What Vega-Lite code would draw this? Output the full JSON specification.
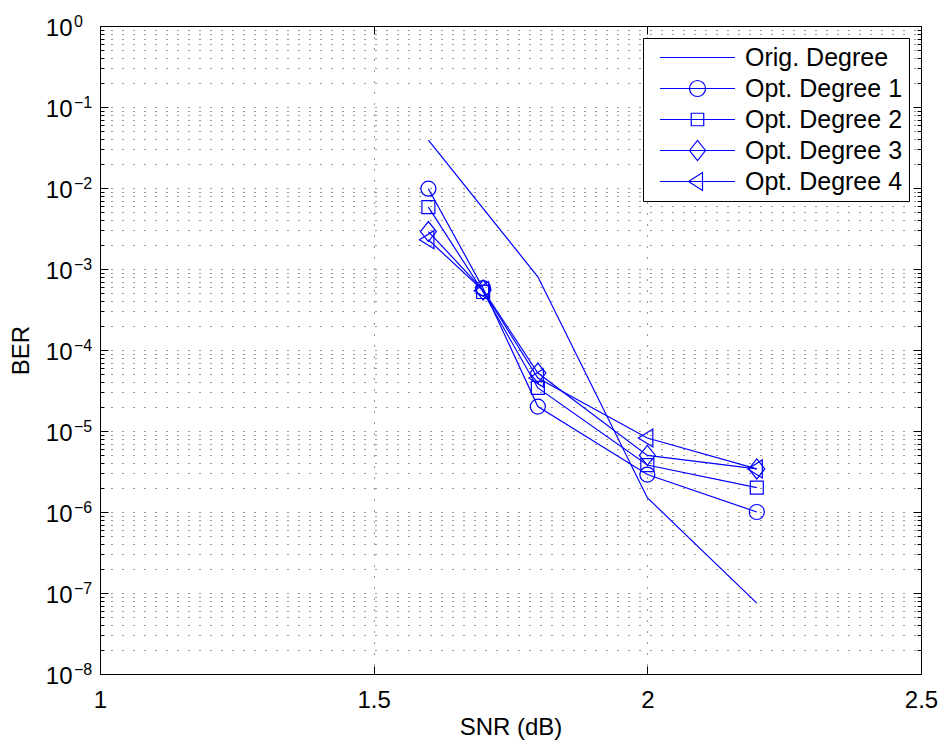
{
  "$schema": "https://vega.github.io/schema/vega-lite/v6.json",
  "width": 821,
  "height": 648,
  "autosize": "none",
  "padding": {"left": 100, "top": 26, "right": 22, "bottom": 71},
  "background": "white",
  "config": {
    "font": "Liberation Sans",
    "view": {"stroke": "black", "strokeWidth": 1},
    "axis": {"domain": false, "labelFont": "Liberation Sans", "titleFont": "Liberation Sans", "labelColor": "black", "titleColor": "black", "tickColor": "black", "labelFontSize": 24, "titleFontSize": 24, "titleFontWeight": "normal", "labelOverlap": false, "labelFlush": false}
  },
  "datasets": {
    "curves": [
      {"series": "Orig. Degree", "snr": 1.6, "ber": 0.039},
      {"series": "Orig. Degree", "snr": 1.8, "ber": 0.0008},
      {"series": "Orig. Degree", "snr": 2.0, "ber": 1.5e-6},
      {"series": "Orig. Degree", "snr": 2.2, "ber": 7.5e-8},
      {"series": "Opt. Degree 1", "snr": 1.6, "ber": 0.0098},
      {"series": "Opt. Degree 1", "snr": 1.7, "ber": 0.00058},
      {"series": "Opt. Degree 1", "snr": 1.8, "ber": 2.0e-5},
      {"series": "Opt. Degree 1", "snr": 2.0, "ber": 2.9e-6},
      {"series": "Opt. Degree 1", "snr": 2.2, "ber": 1.0e-6},
      {"series": "Opt. Degree 2", "snr": 1.6, "ber": 0.0058},
      {"series": "Opt. Degree 2", "snr": 1.7, "ber": 0.00052},
      {"series": "Opt. Degree 2", "snr": 1.8, "ber": 3.4e-5},
      {"series": "Opt. Degree 2", "snr": 2.0, "ber": 3.8e-6},
      {"series": "Opt. Degree 2", "snr": 2.2, "ber": 2.0e-6},
      {"series": "Opt. Degree 3", "snr": 1.6, "ber": 0.0029},
      {"series": "Opt. Degree 3", "snr": 1.7, "ber": 0.00055},
      {"series": "Opt. Degree 3", "snr": 1.8, "ber": 5.2e-5},
      {"series": "Opt. Degree 3", "snr": 2.0, "ber": 5.0e-6},
      {"series": "Opt. Degree 3", "snr": 2.2, "ber": 3.4e-6},
      {"series": "Opt. Degree 4", "snr": 1.6, "ber": 0.0023},
      {"series": "Opt. Degree 4", "snr": 1.7, "ber": 0.00054},
      {"series": "Opt. Degree 4", "snr": 1.8, "ber": 4.5e-5},
      {"series": "Opt. Degree 4", "snr": 2.0, "ber": 8.2e-6},
      {"series": "Opt. Degree 4", "snr": 2.2, "ber": 3.4e-6}
    ],
    "decades": [
      {"tick": 1, "exp": "0"},
      {"tick": 0.1, "exp": "−1"},
      {"tick": 0.01, "exp": "−2"},
      {"tick": 0.001, "exp": "−3"},
      {"tick": 0.0001, "exp": "−4"},
      {"tick": 0.00001, "exp": "−5"},
      {"tick": 0.000001, "exp": "−6"},
      {"tick": 0.0000001, "exp": "−7"},
      {"tick": 0.00000001, "exp": "−8"}
    ]
  },
  "data": {"name": "curves"},
  "resolve": {"axis": {"x": "independent", "y": "independent"}, "scale": {"shape": "independent"}},
  "layer": [
    {
      "mark": {"type": "line", "color": "#0000FF", "strokeWidth": 1.2},
      "encoding": {
        "x": {"field": "snr", "type": "quantitative", "scale": {"domain": [1, 2.5], "nice": false, "zero": false},
          "axis": {"orient": "bottom", "title": "SNR (dB)", "values": [1, 1.5, 2, 2.5], "grid": true, "gridDash": [1, 10], "gridColor": "black", "gridOpacity": 0.8, "tickSize": -8, "labelPadding": 22, "titlePadding": 3, "labelExpr": "format(datum.value, '')"}},
        "y": {"field": "ber", "type": "quantitative", "scale": {"type": "log", "domain": [1e-8, 1], "nice": false},
          "axis": {"orient": "left", "title": "BER", "titlePadding": 12,
            "values": [1e-8,2e-8,3e-8,4e-8,5e-8,6e-8,7e-8,8e-8,9e-8,1e-7,2e-7,3e-7,4e-7,5e-7,6e-7,7e-7,8e-7,9e-7,1e-6,2e-6,3e-6,4e-6,5e-6,6e-6,7e-6,8e-6,9e-6,1e-5,2e-5,3e-5,4e-5,5e-5,6e-5,7e-5,8e-5,9e-5,1e-4,2e-4,3e-4,4e-4,5e-4,6e-4,7e-4,8e-4,9e-4,1e-3,2e-3,3e-3,4e-3,5e-3,6e-3,7e-3,8e-3,9e-3,1e-2,2e-2,3e-2,4e-2,5e-2,6e-2,7e-2,8e-2,9e-2,1e-1,2e-1,3e-1,4e-1,5e-1,6e-1,7e-1,8e-1,9e-1,1],
            "grid": true, "gridDash": [1, 10], "gridColor": "black", "gridOpacity": 0.8,
            "tickSize": {"condition": {"test": "abs(log(datum.value)/LN10 - round(log(datum.value)/LN10)) < 0.001", "value": -8}, "value": -4},
            "labelPadding": 36, "labelBaseline": "middle", "labelOffset": 2,
            "labelExpr": "abs(log(datum.value)/LN10 - round(log(datum.value)/LN10)) < 0.001 ? '10' : ''"}},
        "detail": {"field": "series"}
      }
    },
    {
      "transform": [{"filter": "datum.series != 'Orig. Degree'"}],
      "mark": {"type": "point", "filled": false, "color": "#0000FF", "strokeWidth": 1.2, "size": 100, "opacity": 1},
      "encoding": {
        "x": {"field": "snr", "type": "quantitative",
          "axis": {"orient": "top", "title": null, "labels": false, "values": [1, 1.5, 2, 2.5], "grid": false, "tickSize": -8}},
        "y": {"field": "ber", "type": "quantitative",
          "axis": {"orient": "right", "title": null, "labels": false,
            "values": [1e-8,2e-8,3e-8,4e-8,5e-8,6e-8,7e-8,8e-8,9e-8,1e-7,2e-7,3e-7,4e-7,5e-7,6e-7,7e-7,8e-7,9e-7,1e-6,2e-6,3e-6,4e-6,5e-6,6e-6,7e-6,8e-6,9e-6,1e-5,2e-5,3e-5,4e-5,5e-5,6e-5,7e-5,8e-5,9e-5,1e-4,2e-4,3e-4,4e-4,5e-4,6e-4,7e-4,8e-4,9e-4,1e-3,2e-3,3e-3,4e-3,5e-3,6e-3,7e-3,8e-3,9e-3,1e-2,2e-2,3e-2,4e-2,5e-2,6e-2,7e-2,8e-2,9e-2,1e-1,2e-1,3e-1,4e-1,5e-1,6e-1,7e-1,8e-1,9e-1,1],
            "grid": false,
            "tickSize": {"condition": {"test": "abs(log(datum.value)/LN10 - round(log(datum.value)/LN10)) < 0.001", "value": -8}, "value": -4}}},
        "shape": {"field": "series", "type": "nominal", "legend": null,
          "scale": {"domain": ["Opt. Degree 1", "Opt. Degree 2", "Opt. Degree 3", "Opt. Degree 4"],
            "range": ["M-1.5,0A1.5,1.5,0,1,1,1.5,0A1.5,1.5,0,1,1,-1.5,0Z", "M-1.3,-1.3H1.3V1.3H-1.3Z", "M-1.6,0L0,-2L1.6,0L0,2Z", "M-1.8,0L1.1,-1.8L1.1,1.8Z"]}}
      }
    },
    {
      "transform": [{"filter": "datum.series == 'none'"}],
      "mark": {"type": "point", "filled": false, "color": "#0000FF", "strokeWidth": 1.2, "opacity": 1},
      "encoding": {
        "shape": {"field": "series", "type": "nominal",
          "scale": {"domain": ["Orig. Degree", "Opt. Degree 1", "Opt. Degree 2", "Opt. Degree 3", "Opt. Degree 4"],
            "range": ["M-3,0H3", "M-3,0H3M-0.64,0A0.64,0.64,0,1,1,0.64,0A0.64,0.64,0,1,1,-0.64,0Z", "M-3,0H3M-0.5,-0.5H0.5V0.5H-0.5Z", "M-3,0H3M-0.64,0L0,-0.8L0.64,0L0,0.8Z", "M-3,0H3M-0.72,0L0.4,-0.72L0.4,0.72Z"]},
          "legend": {"title": null, "orient": "top-right", "offset": 12, "padding": 6, "strokeColor": "black", "fillColor": "white",
            "labelFontSize": 25, "labelFont": "Liberation Sans", "labelColor": "black", "symbolSize": 625, "rowPadding": 4,
            "symbolStrokeColor": "#0000FF", "symbolFillColor": "transparent", "symbolStrokeWidth": 1.2, "symbolOpacity": 1,
            "symbolOffset": 35, "labelOffset": 34, "labelLimit": 300}}
      }
    },
    {
      "data": {"name": "decades"},
      "mark": {"type": "text", "align": "left", "baseline": "alphabetic", "dx": -26, "dy": 1, "fontSize": 16, "font": "Liberation Sans", "color": "black"},
      "encoding": {
        "x": {"datum": 1, "type": "quantitative", "axis": null},
        "y": {"field": "tick", "type": "quantitative", "axis": null},
        "text": {"field": "exp"}
      }
    }
  ]
}
